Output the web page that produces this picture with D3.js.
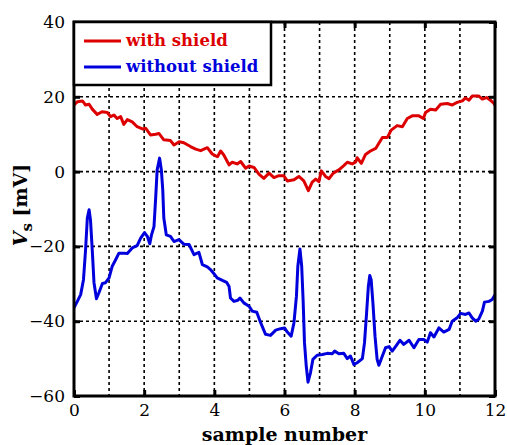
<!DOCTYPE html>
<html>
<head>
<meta charset="utf-8">
<script src="https://cdn.jsdelivr.net/npm/d3@7"></script>
<style>
  body { margin: 0; background: #fff; }
  svg { display: block; }
</style>
</head>
<body>
<svg id="chart" width="507" height="445"></svg>
<script>
// series
const withShieldX = [0, 0.1, 0.24, 0.33, 0.43, 0.52, 0.66, 0.8, 0.95, 1.04, 1.14, 1.23, 1.33, 1.42, 1.52, 1.66, 1.8, 1.95, 2.04, 2.18, 2.33, 2.42, 2.56, 2.75, 2.85, 3.0, 3.13, 3.32, 3.47, 3.61, 3.8, 3.94, 4.04, 4.09, 4.18, 4.27, 4.42, 4.51, 4.65, 4.75, 4.89, 4.99, 5.13, 5.27, 5.41, 5.56, 5.7, 5.84, 5.98, 6.08, 6.27, 6.41, 6.55, 6.68, 6.79, 6.89, 6.98, 7.05, 7.17, 7.27, 7.39, 7.55, 7.69, 7.79, 7.93, 8.03, 8.07, 8.19, 8.31, 8.45, 8.6, 8.69, 8.79, 8.93, 9.04, 9.21, 9.36, 9.5, 9.64, 9.83, 9.96, 10.02, 10.16, 10.31, 10.45, 10.64, 10.78, 10.92, 11.07, 11.16, 11.26, 11.35, 11.54, 11.64, 11.76, 11.87, 11.97, 12.0];
const withShieldY = [17.8, 18.7, 18.9, 17.8, 18, 16.7, 15.3, 16, 15.8, 14.7, 15.1, 14.2, 14.7, 12.6, 13.9, 13.3, 12, 11.4, 11.6, 9.8, 10, 10.2, 8.5, 8.3, 7.1, 8, 7.7, 6.7, 6, 5.6, 6.4, 4.7, 4.2, 4, 5.5, 4.45, 1.8, 2.5, 2.05, 2.7, 0.9, 1.5, 1.1, -0.7, -1.8, -0.4, -1.6, -1.1, -1.1, -2.5, -2.2, -1.3, -2.5, -5.1, -2.8, -2, -2.7, 0.2, -1.3, -1.9, -0.4, 0.45, 1.6, 2.5, 2.05, 2.6, 3.7, 2.2, 4.6, 5.5, 6.2, 7.6, 9.1, 9.1, 11.1, 12.3, 12, 14.2, 14.9, 14.9, 14.2, 15.8, 16.7, 16.5, 18, 18.2, 17.8, 18.5, 18.9, 19.7, 19.1, 20.2, 20.2, 19.4, 19.8, 19.1, 18.2, 17.8];

const withoutShieldX = [0, 0.095, 0.19, 0.27, 0.33, 0.38, 0.43, 0.47, 0.52, 0.57, 0.64, 0.71, 0.81, 0.9, 1.0, 1.09, 1.19, 1.28, 1.42, 1.52, 1.66, 1.8, 1.9, 2.01, 2.09, 2.16, 2.21, 2.28, 2.33, 2.37, 2.44, 2.49, 2.53, 2.56, 2.63, 2.75, 2.85, 2.99, 3.13, 3.28, 3.42, 3.56, 3.66, 3.8, 3.89, 3.99, 4.08, 4.23, 4.35, 4.42, 4.46, 4.56, 4.67, 4.73, 4.84, 4.99, 5.08, 5.21, 5.32, 5.46, 5.6, 5.75, 5.89, 6.0, 6.08, 6.19, 6.27, 6.34, 6.38, 6.44, 6.49, 6.53, 6.57, 6.62, 6.67, 6.74, 6.81, 6.93, 7.08, 7.22, 7.36, 7.43, 7.55, 7.69, 7.79, 7.88, 7.98, 8.07, 8.22, 8.28, 8.34, 8.39, 8.43, 8.47, 8.52, 8.58, 8.64, 8.69, 8.79, 8.88, 8.98, 9.07, 9.17, 9.29, 9.4, 9.55, 9.69, 9.83, 9.97, 10.07, 10.16, 10.26, 10.4, 10.54, 10.69, 10.78, 10.92, 11.02, 11.16, 11.26, 11.35, 11.45, 11.54, 11.64, 11.7, 11.83, 11.92, 12.0];
const withoutShieldY = [-36.4, -34.7, -32.9, -28.9, -20.9, -12.4, -10.2, -12.9, -20.9, -29.7, -34, -32.4, -29.9, -29.7, -28.4, -25.3, -23.5, -21.8, -21.8, -21.9, -20.4, -19.8, -17.8, -16.3, -17.3, -19.3, -16.9, -14.7, -6.7, 0.45, 3.6, 0.45, -4.9, -12.4, -16.9, -17.3, -18.7, -18.2, -19.4, -19.5, -22.2, -21.6, -24.9, -25.5, -26.2, -27.3, -28.4, -29.1, -29.6, -30.7, -33.8, -34.7, -34.4, -33.8, -35.1, -36, -37.3, -37.6, -40.4, -43.5, -43.8, -42.4, -42, -41.8, -42.9, -44, -40.4, -33.3, -25.3, -20.7, -25.3, -34.2, -45.8, -52, -56.3, -53.8, -50.2, -49.1, -48.9, -48.6, -48.7, -48, -48.7, -48.6, -50, -49.3, -51.6, -51.1, -50, -45.8, -37.8, -30.7, -27.8, -28.9, -35.1, -44, -50.2, -51.8, -49.3, -47.1, -46.8, -48, -46.7, -45.1, -46.2, -45.1, -47.1, -44.9, -44.9, -45.6, -43.1, -44.2, -41.8, -42.9, -42.2, -40, -39.1, -37.9, -38.2, -37.8, -39.1, -40, -39.4, -37.3, -34.9, -34.7, -34.2, -32.9];

const xTicks = [0, 2, 4, 6, 8, 10, 12];
const xGrid = [1, 2, 3, 4, 5, 6, 7, 8, 9, 10, 11];
const yTicks = [-60, -40, -20, 0, 20, 40];
const seriesNames = ['with shield', 'without shield'];
const seriesColors = ['#dd0000', '#0000dd'];

const margin = { left: 74, top: 22, right: 12, bottom: 49 };
const width = 507 - margin.left - margin.right;
const height = 445 - margin.top - margin.bottom;
const serif = '"DejaVu Serif", "Liberation Serif", serif';

const svg = d3.select('#chart');
const g = svg.append('g').attr('transform', `translate(${margin.left},${margin.top})`);

const x = d3.scaleLinear().domain([0, 12]).range([0, width]);
const y = d3.scaleLinear().domain([-60, 40]).range([height, 0]);

// dotted grid
g.append('g')
  .selectAll('line')
  .data(xGrid)
  .join('line')
  .attr('x1', d => x(d))
  .attr('x2', d => x(d))
  .attr('y1', 0)
  .attr('y2', height)
  .attr('stroke', '#000')
  .attr('stroke-width', 1.6)
  .attr('stroke-dasharray', '3,3');
g.append('g')
  .selectAll('line')
  .data(yTicks.slice(1, -1))
  .join('line')
  .attr('x1', 0)
  .attr('x2', width)
  .attr('y1', d => y(d))
  .attr('y2', d => y(d))
  .attr('stroke', '#000')
  .attr('stroke-width', 1.6)
  .attr('stroke-dasharray', '3,3');

// data lines
const line = d3.line().x(d => x(d[0])).y(d => y(d[1]));
const series = [
  d3.zip(withShieldX, withShieldY),
  d3.zip(withoutShieldX, withoutShieldY)
];
series.forEach((pts, i) => {
  g.append('path')
    .datum(pts)
    .attr('fill', 'none')
    .attr('stroke', seriesColors[i])
    .attr('stroke-width', 3)
    .attr('stroke-linejoin', 'round')
    .attr('d', line);
});

// axes with inward ticks
const tickStyle = sel => {
  sel.select('.domain').remove();
  sel.selectAll('.tick line').attr('stroke', '#000').attr('stroke-width', 3);
  sel.selectAll('.tick text')
    .attr('fill', '#000')
    .style('font-family', serif)
    .style('font-size', '17px');
};
g.append('g')
  .attr('transform', `translate(0,${height})`)
  .call(d3.axisBottom(x).tickValues(xTicks).tickSize(-6).tickPadding(8).tickFormat(d3.format('d')))
  .call(tickStyle);
g.append('g')
  .call(d3.axisTop(x).tickValues(xTicks).tickSize(-6).tickFormat(''))
  .call(tickStyle);
g.append('g')
  .call(d3.axisLeft(y).tickValues(yTicks).tickSize(-6).tickPadding(9).tickFormat(d3.format('d')))
  .call(tickStyle);
g.append('g')
  .attr('transform', `translate(${width},0)`)
  .call(d3.axisRight(y).tickValues(yTicks).tickSize(-6).tickFormat(''))
  .call(tickStyle);

// frame
g.append('rect')
  .attr('width', width)
  .attr('height', height)
  .attr('fill', 'none')
  .attr('stroke', '#000')
  .attr('stroke-width', 3);

// legend
const legend = g.append('g');
legend.append('rect')
  .attr('x', 0)
  .attr('y', 0)
  .attr('width', 197)
  .attr('height', 63)
  .attr('fill', '#fff')
  .attr('stroke', '#000')
  .attr('stroke-width', 2.5);
seriesNames.forEach((name, i) => {
  const ly = 19 + i * 26;
  legend.append('line')
    .attr('x1', 10)
    .attr('x2', 47)
    .attr('y1', ly)
    .attr('y2', ly)
    .attr('stroke', seriesColors[i])
    .attr('stroke-width', 3);
  legend.append('text')
    .attr('x', 52)
    .attr('y', ly + 5)
    .attr('fill', seriesColors[i])
    .style('font-family', serif)
    .style('font-weight', 'bold')
    .style('font-size', '16.5px')
    .text(name);
});

// axis titles
svg.append('text')
  .attr('x', margin.left + width / 2)
  .attr('y', 441)
  .attr('text-anchor', 'middle')
  .style('font-family', serif)
  .style('font-weight', 'bold')
  .style('font-size', '19px')
  .text('sample number');

const yTitle = svg.append('text')
  .attr('transform', `translate(27,${margin.top + height / 2 - 4}) rotate(-90)`)
  .attr('text-anchor', 'middle')
  .style('font-family', serif)
  .style('font-weight', 'bold')
  .style('font-size', '19px');
yTitle.append('tspan').style('font-style', 'italic').text('V');
yTitle.append('tspan').attr('dy', 5).style('font-size', '15px').text('s');
yTitle.append('tspan').attr('dy', -5).text(' [mV]');
</script>
</body>
</html>
